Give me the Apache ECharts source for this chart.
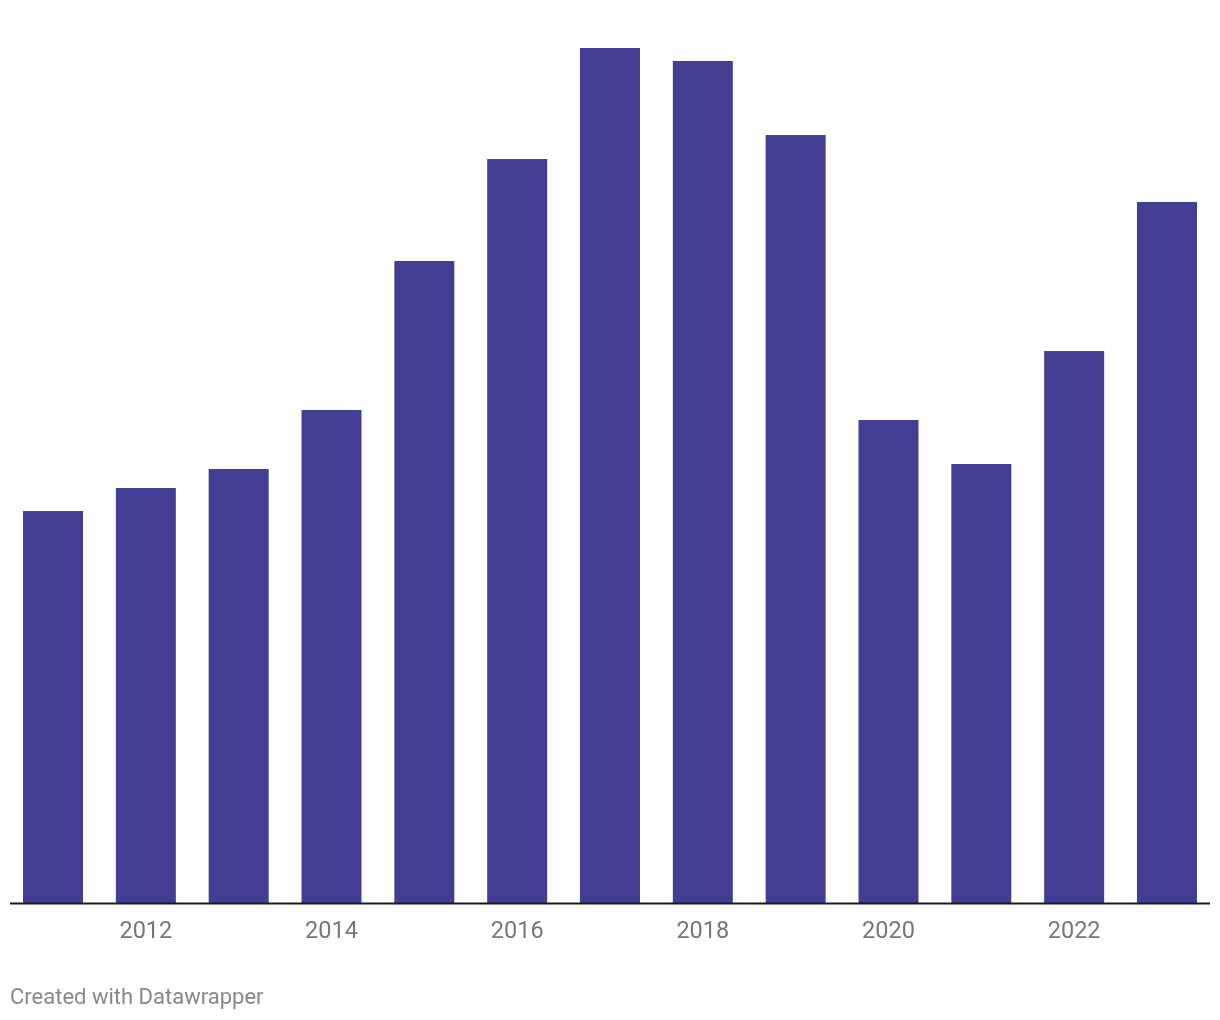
<!DOCTYPE html>
<html>
<head>
<meta charset="utf-8">
<script src="https://cdn.jsdelivr.net/npm/echarts@6/dist/echarts.min.js"></script>
<style>
html,body{margin:0;padding:0;background:#fff;}
#chart{width:1220px;height:1020px;}
</style>
</head>
<body>
<div id="chart"></div>
<script>
const years = ['2011','2012','2013','2014','2015','2016','2017','2018','2019','2020','2021','2022','2023'];
const values = [392, 415, 434, 493, 642, 744, 855, 842, 768, 483, 439, 552, 701];

const chart = echarts.init(document.getElementById('chart'));
chart.setOption({
  animation: false,
  backgroundColor: '#fff',
  grid: { left: 6.6, right: 6.6, top: 48, bottom: 117 },
  xAxis: {
    type: 'category',
    data: years,
    axisLine: { show: false },
    axisTick: { show: false },
    axisLabel: {
      interval: function (i) { return i % 2 === 1; },
      color: '#777',
      fontFamily: 'Roboto',
      fontSize: 23.5,
      margin: 17
    }
  },
  yAxis: {
    type: 'value',
    min: 0,
    max: 855,
    show: false,
    splitLine: { show: false }
  },
  series: [{
    type: 'bar',
    data: values,
    barWidth: 60,
    itemStyle: { color: '#433d93' }
  }],
  graphic: [
    {
      type: 'line',
      shape: { x1: 10, y1: 903.5, x2: 1210, y2: 903.5 },
      style: { stroke: '#1a1a1a', lineWidth: 2 },
      z: 10
    },
    {
      type: 'text',
      left: 10,
      top: 987,
      style: { text: 'Created with Datawrapper', fill: '#888', font: '22px Roboto' }
    }
  ]
});
</script>
</body>
</html>
